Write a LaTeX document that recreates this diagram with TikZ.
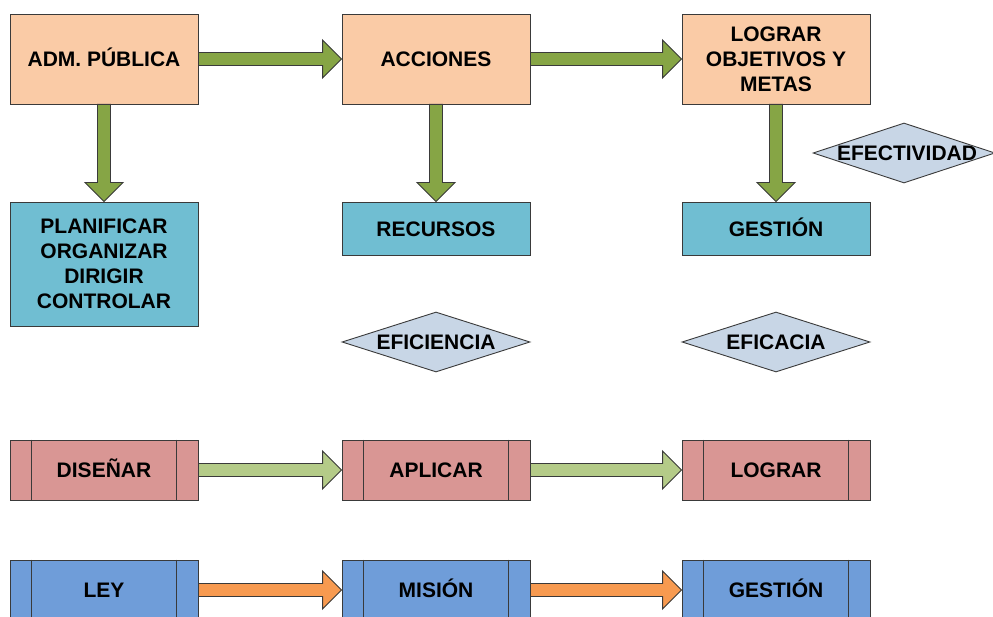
\documentclass[tikz,border=0pt]{standalone}
\usepackage{fontspec}
\setmainfont{Liberation Sans}
\usetikzlibrary{shapes.geometric,calc}
\definecolor{peach}{HTML}{FACBA6}
\definecolor{teal}{HTML}{70BED2}
\definecolor{agreen}{HTML}{86A545}
\definecolor{lgreen}{HTML}{B4CB88}
\definecolor{aorange}{HTML}{F79A50}
\definecolor{dia}{HTML}{C8D6E6}
\definecolor{rosy}{HTML}{D99694}
\definecolor{sky}{HTML}{6F9DD9}
\definecolor{boxline}{HTML}{3A3A3A}
\newcommand\harrow[3]{%
  \draw[arrline, fill=#3] let \p1=(#1.east), \p2=(#2.west) in
    (\x1,\y1+6.5pt) -- (\x2-19pt,\y1+6.5pt) -- (\x2-19pt,\y1+19pt) -- (\x2,\y1)
    -- (\x2-19pt,\y1-19pt) -- (\x2-19pt,\y1-6.5pt) -- (\x1,\y1-6.5pt) -- cycle;}
\newcommand\varrow[3]{%
  \draw[arrline, fill=#3] let \p1=(#1.south), \p2=(#2.north) in
    (\x1-6.5pt,\y1) -- (\x1-6.5pt,\y2+19pt) -- (\x1-19pt,\y2+19pt) -- (\x1,\y2)
    -- (\x1+19pt,\y2+19pt) -- (\x1+6.5pt,\y2+19pt) -- (\x1+6.5pt,\y1) -- cycle;}
\newcommand\sidebars[1]{%
  \draw[boxline, line width=0.9pt] ([xshift=22pt]#1.north west) -- ([xshift=22pt]#1.south west);
  \draw[boxline, line width=0.9pt] ([xshift=-22pt]#1.north east) -- ([xshift=-22pt]#1.south east);}
\begin{document}
\begin{tikzpicture}[x=1pt,y=-1pt,
  box/.style={draw=boxline, line width=0.9pt, minimum width=188pt, inner sep=0pt,
    font=\bfseries\fontsize{21}{25}\selectfont, align=center},
  one/.style={text height=15.2pt, text depth=0pt},
  topbox/.style={box, fill=peach, minimum height=90pt},
  midbox/.style={box, fill=teal},
  procA/.style={box, one, fill=rosy, minimum height=60pt},
  procB/.style={box, one, fill=sky, minimum height=60pt},
  diam/.style={shape=diamond, draw=boxline, line width=0.9pt, fill=dia, inner sep=0pt,
    minimum height=60pt, font=\bfseries\fontsize{21}{25}\selectfont},
  arrline/.style={draw=boxline, line width=0.9pt, line join=miter}]
\useasboundingbox (0,0) rectangle (993,617);
\clip (0,0) rectangle (993,617);

% top row
\node[topbox, one] (adm) at (104,59) {ADM. PÚBLICA};
\node[topbox, one] (acc) at (436,59) {ACCIONES};
\node[topbox] (log) at (776,59) {LOGRAR\\OBJETIVOS Y\\METAS};

% second row
\node[midbox, minimum height=124pt] (plan) at (104,264) {PLANIFICAR\\ORGANIZAR\\DIRIGIR\\CONTROLAR};
\node[midbox, one, minimum height=53pt] (rec) at (436,228.5) {RECURSOS};
\node[midbox, one, minimum height=53pt] (ges) at (776,228.5) {GESTIÓN};

% diamonds
\node[diam, minimum width=182pt] (efect) at (904,153) {\makebox[0pt]{\hspace*{6pt}EFECTIVIDAD}};
\node[diam, minimum width=188pt] (efici) at (436,342) {\makebox[0pt]{EFICIENCIA}};
\node[diam, minimum width=188pt] (efica) at (776,342) {\makebox[0pt]{EFICACIA}};

% process rows
\node[procA] (dis) at (104,470) {DISEÑAR};
\node[procA] (apl) at (436,470) {APLICAR};
\node[procA] (lgr) at (776,470) {LOGRAR};
\node[procB] (ley) at (104,590) {LEY};
\node[procB] (mis) at (436,590) {MISIÓN};
\node[procB] (ges2) at (776,590) {GESTIÓN};
\foreach \n in {dis,apl,lgr,ley,mis,ges2} {\sidebars{\n}}

% arrows
\harrow{adm}{acc}{agreen}
\harrow{acc}{log}{agreen}
\varrow{adm}{plan}{agreen}
\varrow{acc}{rec}{agreen}
\varrow{log}{ges}{agreen}
\harrow{dis}{apl}{lgreen}
\harrow{apl}{lgr}{lgreen}
\harrow{ley}{mis}{aorange}
\harrow{mis}{ges2}{aorange}
\end{tikzpicture}
\end{document}
